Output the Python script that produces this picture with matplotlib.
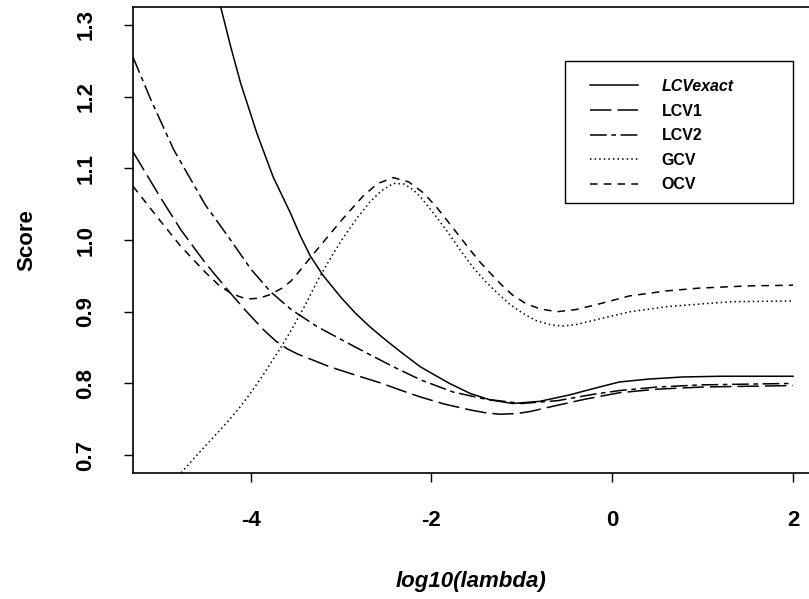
import matplotlib.pyplot as plt
from matplotlib.patches import Rectangle

# values
lcvexact_x = [-4.45, -4.33, -4.22, -4.11, -3.93, -3.75, -3.56, -3.45, -3.34, -3.2, -3.0, -2.84, -2.68,
              -2.5, -2.34, -2.12, -1.8, -1.57, -1.35, -1.10, -0.8, -0.47, -0.14, 0.08, 0.4, 0.78,
              1.2, 1.6, 2.0]
lcvexact_y = [1.39, 1.325, 1.270, 1.219, 1.149, 1.088, 1.038, 1.006, 0.978, 0.951, 0.920, 0.898, 0.879,
              0.860, 0.844, 0.823, 0.800, 0.786, 0.777, 0.772, 0.775, 0.784, 0.795, 0.802, 0.806, 0.809,
              0.810, 0.810, 0.810]

lcv1_x = [-5.30, -5.0, -4.77, -4.5, -4.25, -4.05, -3.85, -3.72, -3.59, -3.48, -3.3, -3.12, -2.85,
          -2.57, -2.35, -2.12, -1.85, -1.57, -1.4, -1.24, -1.05, -0.9, -0.66, -0.3, 0.08, 0.5,
          1.0, 1.5, 2.0]
lcv1_y = [1.123, 1.060, 1.014, 0.968, 0.930, 0.901, 0.874, 0.859, 0.848, 0.841, 0.832, 0.823, 0.812,
          0.801, 0.791, 0.781, 0.771, 0.763, 0.759, 0.757, 0.758, 0.761, 0.768, 0.778, 0.787, 0.792,
          0.795, 0.796, 0.797]

lcv2_x = [-5.30, -5.1, -4.85, -4.5, -4.22, -4.0, -3.78, -3.55, -3.26, -2.95, -2.68, -2.4, -2.12,
          -1.76, -1.4, -1.0, -0.6, -0.2, 0.08, 0.5, 1.0, 1.5, 2.0]
lcv2_y = [1.255, 1.195, 1.126, 1.049, 1.000, 0.960, 0.928, 0.903, 0.879, 0.858, 0.840, 0.822, 0.805,
          0.788, 0.778, 0.772, 0.776, 0.785, 0.790, 0.795, 0.798, 0.799, 0.800]

gcv_x = [-4.9, -4.77, -4.6, -4.41, -4.25, -4.11, -3.98, -3.86, -3.67, -3.56, -3.4, -3.26, -3.1,
         -2.97, -2.82, -2.68, -2.55, -2.42, -2.3, -2.2, -2.12, -1.98, -1.83, -1.68, -1.54, -1.4,
         -1.27, -1.13, -0.99, -0.85, -0.69, -0.55, -0.4, -0.14, 0.2, 0.6, 1.0, 1.33, 2.0]
gcv_y = [0.656, 0.675, 0.699, 0.725, 0.747, 0.768, 0.790, 0.812, 0.849, 0.872, 0.908, 0.943, 0.978,
         1.004, 1.031, 1.053, 1.069, 1.079, 1.078, 1.070, 1.060, 1.038, 1.013, 0.986, 0.962, 0.942,
         0.926, 0.910, 0.898, 0.888, 0.882, 0.880, 0.882, 0.890, 0.900, 0.907, 0.911, 0.914, 0.915]

ocv_x = [-5.30, -5.0, -4.77, -4.5, -4.35, -4.22, -4.1, -4.0, -3.9, -3.78, -3.65, -3.55, -3.45,
         -3.34, -3.15, -2.97, -2.75, -2.59, -2.42, -2.25, -2.09, -1.95, -1.83, -1.7, -1.57, -1.46,
         -1.35, -1.22, -1.10, -0.95, -0.8, -0.61, -0.4, -0.17, 0.19, 0.6, 0.97, 1.5, 2.0]
ocv_y = [1.075, 1.027, 0.991, 0.955, 0.937, 0.926, 0.920, 0.918, 0.919, 0.924, 0.933, 0.943, 0.958,
         0.975, 1.004, 1.031, 1.062, 1.079, 1.087, 1.081, 1.066, 1.047, 1.028, 1.007, 0.986, 0.969,
         0.954, 0.937, 0.923, 0.911, 0.904, 0.900, 0.903, 0.910, 0.922, 0.929, 0.933, 0.936, 0.937]

labels = ['LCVexact', 'LCV1', 'LCV2', 'GCV', 'OCV']

plt.rcParams['font.family'] = ['Liberation Sans', 'DejaVu Sans']
plt.rcParams['font.weight'] = 'bold'

fig = plt.figure(figsize=(8.09, 5.99), dpi=100)
ax = fig.add_axes([0.1644, 0.2103, 0.8356, 0.778])

lw = 1.1
ax.plot(lcvexact_x, lcvexact_y, color='black', lw=lw, linestyle='-', label=labels[0])
ax.plot(lcv1_x, lcv1_y, color='black', lw=lw, linestyle=(0, (14, 4)), label=labels[1])
ax.plot(lcv2_x, lcv2_y, color='black', lw=lw, linestyle=(0, (11, 3, 3, 3)), label=labels[2])
ax.plot(gcv_x, gcv_y, color='black', lw=lw, linestyle=(0, (1, 2)), label=labels[3])
ax.plot(ocv_x, ocv_y, color='black', lw=lw, linestyle=(0, (5, 4)), label=labels[4])

ax.set_xlim(-5.3, 2.177)
ax.set_ylim(0.675, 1.325)
ax.set_xticks([-4, -2, 0, 2])
ax.set_yticks([0.7, 0.8, 0.9, 1.0, 1.1, 1.2, 1.3])
ax.set_xticklabels(['-4', '-2', '0', '2'])
ax.set_yticklabels(['0.7', '0.8', '0.9', '1.0', '1.1', '1.2', '1.3'])

ax.tick_params(direction='out', length=6.5, width=1, pad=20, labelsize=16)
ax.tick_params(axis='y', labelrotation=90)
for lab in ax.get_yticklabels():
    lab.set_va('center')

ax.spines['right'].set_visible(False)
for s in ['left', 'bottom', 'top']:
    ax.spines[s].set_linewidth(1.2)

ax.set_xlabel('log10(lambda)', fontsize=16, fontweight='bold', style='italic', labelpad=29)
ax.set_ylabel('Score', fontsize=16, fontweight='bold', labelpad=27)

# legend without its own frame, box drawn separately (R style)
leg = ax.legend(loc='upper left', bbox_to_anchor=(590 / 809, 1 - 79 / 599),
                bbox_transform=fig.transFigure, fontsize=11.5, frameon=False,
                handlelength=3.0, handletextpad=1.5, labelspacing=0.6, borderpad=0,
                borderaxespad=0)
leg.get_texts()[0].set_style('italic')
fig.patches.append(Rectangle((565 / 809, 1 - 203 / 599), 228 / 809, 142 / 599,
                             transform=fig.transFigure, fill=False, edgecolor='black', lw=1.0))

fig.savefig('out.png', dpi=100)
